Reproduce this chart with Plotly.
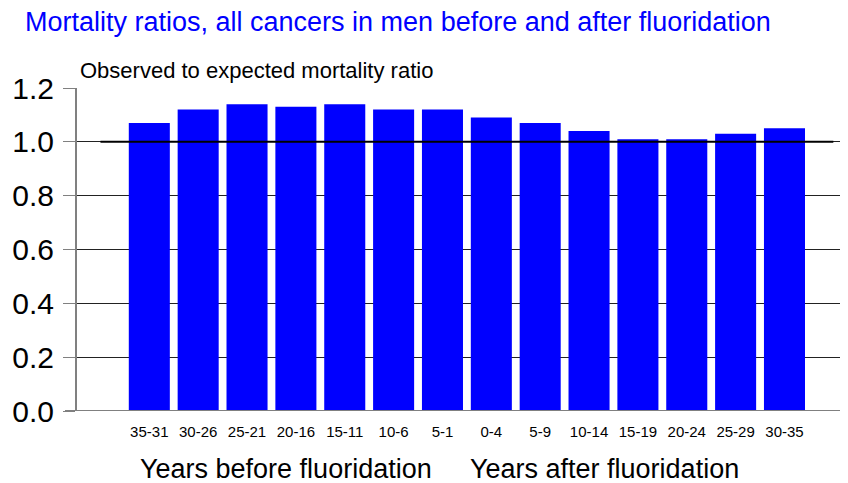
import plotly.graph_objects as go

categories = ["35-31", "30-26", "25-21", "20-16", "15-11", "10-6", "5-1",
              "0-4", "5-9", "10-14", "15-19", "20-24", "25-29", "30-35"]
ratios = [1.07, 1.12, 1.14, 1.13, 1.14, 1.12, 1.12,
          1.09, 1.07, 1.04, 1.01, 1.01, 1.03, 1.05]
y_ticks = [0.0, 0.2, 0.4, 0.6, 0.8, 1.0, 1.2]
reference_level = 1.0

OFF = 8  # page body margin
W, H = 848 - OFF, 483 - OFF
# plot area in picture pixels: x 77..848, y 88..411
L, R, T, B = 77 - OFF, 0, 88 - OFF, 483 - 411
pw, ph = W - L - R, H - T - B

def px(x):
    return (x - OFF - L) / pw

def py(y):
    return (H - B - (y - OFF)) / ph

FONT = "Liberation Sans, Arial, sans-serif"

fig = go.Figure()
fig.add_trace(go.Bar(
    x=list(range(len(categories))), y=ratios,
    marker=dict(color="#0000ff", line=dict(width=0)),
    width=0.84,
))

fig.add_shape(type="line", xref="x", yref="y", x0=-1, x1=len(categories),
              y0=reference_level, y1=reference_level,
              line=dict(color="black", width=2))

fig.update_layout(
    width=W, height=H,
    margin=dict(l=L, r=R, t=T, b=B),
    plot_bgcolor="white", paper_bgcolor="white",
    showlegend=False,
    font=dict(family=FONT, color="black"),
    xaxis=dict(
        range=[-1.48, 14.3],
        tickmode="array", tickvals=list(range(len(categories))), ticktext=categories,
        tickfont=dict(size=15), ticks="", showgrid=False,
        showline=False, zeroline=False, ticklabelstandoff=10,
    ),
    yaxis=dict(
        range=[0, 1.2], tickvals=y_ticks, ticktext=[f"{v:.1f}" for v in y_ticks],
        tickfont=dict(size=30), ticks="outside", ticklen=12, tickcolor="#808080",
        showline=True, linecolor="#808080", linewidth=2,
        showgrid=True, gridcolor="#222222", gridwidth=1,
        zeroline=False, ticklabelstandoff=3,
    ),
    annotations=[
        dict(text="Mortality ratios, all cancers in men before and after fluoridation",
             xref="paper", yref="paper", x=px(23), y=py(22), xanchor="left", yanchor="middle",
             showarrow=False, font=dict(size=27, color="#0000ff", family=FONT)),
        dict(text="Observed to expected mortality ratio",
             xref="paper", yref="paper", x=px(78), y=py(70), xanchor="left", yanchor="middle",
             showarrow=False, font=dict(size=22, color="black", family=FONT)),
        dict(text="Years before fluoridation",
             xref="paper", yref="paper", x=px(286), y=py(469), xanchor="center", yanchor="middle",
             showarrow=False, font=dict(size=27, color="black", family=FONT)),
        dict(text="Years after fluoridation",
             xref="paper", yref="paper", x=px(604), y=py(469), xanchor="center", yanchor="middle",
             showarrow=False, font=dict(size=27, color="black", family=FONT)),
    ],
)

fig.add_shape(type="line", xref="paper", yref="y", x0=px(65), x1=1, y0=0, y1=0,
              line=dict(color="#808080", width=2))

fig.write_html("out.html")
